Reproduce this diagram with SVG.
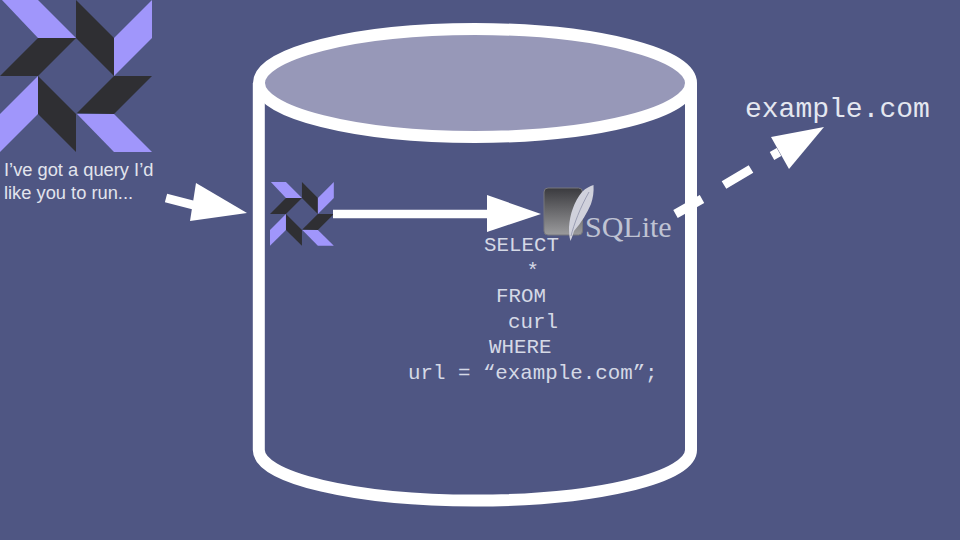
<svg xmlns="http://www.w3.org/2000/svg" width="960" height="540" viewBox="0 0 960 540">
<defs>
<style>
.light{fill:#a096fb}
.dark{fill:#2f2f33}
.code{font-family:"Liberation Mono",monospace;font-size:20.8px;fill:#d5d9e6}
.say{font-family:"Liberation Sans",Arial,sans-serif;font-size:18.3px;fill:#e2e4ed}
.wall{fill:none;stroke:#fff;stroke-width:12}
.arrow{fill:#fff}
.shaft{stroke:#fff;fill:none}
</style>
<linearGradient id="box" x1="0" y1="0" x2="0" y2="1">
<stop offset="0" stop-color="#3a3a3e"/>
<stop offset="1" stop-color="#9b9b9d"/>
</linearGradient>
<g id="logo">
<polygon class="light" points="2,0 38,0 76,38 38,38"/>
<polygon class="dark" points="76,38 38,38 0,76 38,76"/>
<polygon class="dark" points="76,0 114,38 114,76 76,38"/>
<polygon class="light" points="114,38 152,0 152,38 114,76"/>
<polygon class="dark" points="77,113 114,76 152,76 114,114"/>
<polygon class="light" points="77,114 114,114 152,152 114,152"/>
<polygon class="dark" points="38,76 76,114 76,152 38,114"/>
<polygon class="light" points="38,76 38,114 0,152 0,114"/>
</g>
</defs>
<rect width="960" height="540" fill="#4f5683"/>
<g id="user">
<use href="#logo"/>
<text class="say" x="4" y="176">I’ve got a query I’d</text>
<text class="say" x="4" y="199">like you to run...</text>
</g>
<g id="database">
<path class="wall" d="M258.800 83V450A216 50.500 0 0 0 691 450V83"/>
<ellipse cx="475" cy="83" rx="216" ry="54" fill="#9798b8" stroke="#fff" stroke-width="12"/>
</g>
<g id="inner-logo">
<use href="#logo" transform="translate(270 182) scale(.42)"/>
</g>
<g id="sqlite">
<rect x="544" y="188" width="38.500" height="47" rx="4" fill="url(#box)" stroke="#77777c" stroke-width="1"/>
<path d="M570.500 241C569 236 569 232 569 227C570 214 574 202 582 192C586 188 590 186 593.500 185C594 192 593 198 591 204C587 213 582 222 574 231C573 234 572 238 570.500 241Z" fill="#d0d1dc"/>
<path d="M571 236C574 224 580 208 589 192" fill="none" stroke="#8d90a8" stroke-width=".8"/>
<text x="585" y="236.500" font-family="Liberation Serif,serif" font-size="30" fill="#bfc3d3">SQLite</text>
</g>
<g id="query">
<text class="code" x="484" y="251">SELECT</text>
<text class="code" x="526.500" y="277">*</text>
<text class="code" x="496" y="302">FROM</text>
<text class="code" x="508" y="328">curl</text>
<text class="code" x="489" y="353">WHERE</text>
<text class="code" x="408" y="379">url = “example.com”;</text>
</g>
<g id="site">
<text x="745" y="117" font-family="Liberation Mono,monospace" font-size="28" fill="#e4e7f0">example.com</text>
</g>
<g id="connectors">
<path class="shaft" stroke-width="9" d="M166 198L197 206"/>
<polygon class="arrow" points="247,213 196,183 190,221"/>
<path class="shaft" stroke-width="8.500" d="M333 214H490"/>
<polygon class="arrow" points="541,214 487,195 487,232"/>
<path class="shaft" stroke-width="9" d="M675.500 214L702 199M724 185L751 169M772 156L779 152"/>
<polygon class="arrow" points="824,127 771,137 789,169"/>
</g>
</svg>
